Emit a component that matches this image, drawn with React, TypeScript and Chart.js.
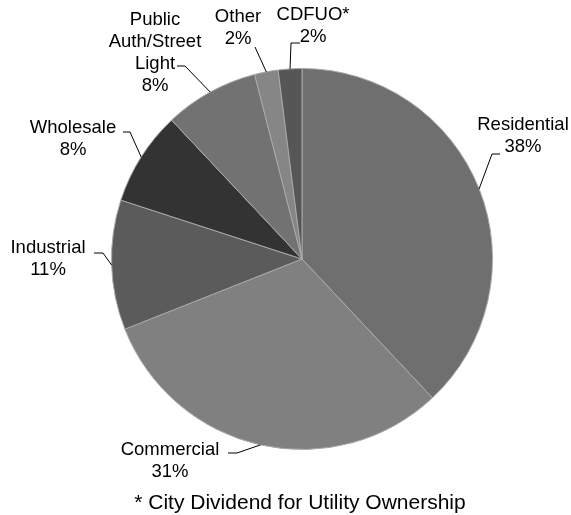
import React, { useEffect, useRef } from "react";
import { Chart, registerables } from "chart.js";

Chart.register(...registerables);

// ---- data ----
const categories = [
  "Residential",
  "Commercial",
  "Industrial",
  "Wholesale",
  "Public Auth/Street Light",
  "Other",
  "CDFUO*",
];
const shares = [38, 31, 11, 8, 8, 2, 2];
const sliceColors = ["#6f6f6f", "#808080", "#5b5b5b", "#333333", "#727272", "#868686", "#565656"];
const labelNameLines = [
  ["Residential"],
  ["Commercial"],
  ["Industrial"],
  ["Wholesale"],
  ["Public", "Auth/Street", "Light"],
  ["Other"],
  ["CDFUO*"],
];
const footnote = "* City Dividend for Utility Ownership";

// ---- label layout (text centre of first line, leader elbow, leader tail) ----
const labelLayout = [
  { tx: 523, ty: 125, ex: 492, ey: 154, hx: 500, hy: 154 },
  { tx: 170, ty: 450, ex: 237, ey: 453, hx: 228, hy: 453 },
  { tx: 48, ty: 248, ex: 103, ey: 253, hx: 94, hy: 253 },
  { tx: 73, ty: 128, ex: 130, ey: 132, hx: 123, hy: 132 },
  { tx: 155, ty: 20, ex: 185, ey: 66, hx: 177, hy: 66 },
  { tx: 238, ty: 17, ex: 255, ey: 47, hx: 255, hy: 47 },
  { tx: 313, ty: 15, ex: 291, ey: 43, hx: 300, hy: 43 },
];

const FONT = '"Liberation Sans", Arial, sans-serif';
const LABEL_SIZE = 18.5;
const LINE_H = 22;

const labelPlugin = {
  id: "pieLabels",
  afterDraw(chart: any) {
    const ctx = chart.ctx as CanvasRenderingContext2D;
    const meta = chart.getDatasetMeta(0);
    const values = chart.data.datasets[0].data as number[];
    const total = values.reduce((a, b) => a + b, 0);
    ctx.save();
    meta.data.forEach((arc: any, i: number) => {
      const { x, y, startAngle, endAngle, outerRadius } = arc.getProps(
        ["x", "y", "startAngle", "endAngle", "outerRadius"],
        true
      );
      const mid = (startAngle + endAngle) / 2;
      const px = x + Math.cos(mid) * outerRadius;
      const py = y + Math.sin(mid) * outerRadius;
      const L = labelLayout[i];
      ctx.strokeStyle = "#000";
      ctx.lineWidth = 1;
      ctx.beginPath();
      ctx.moveTo(px, py);
      ctx.lineTo(L.ex, L.ey);
      ctx.lineTo(L.hx, L.hy);
      ctx.stroke();

      const lines = [...labelNameLines[i], `${Math.round((values[i] / total) * 100)}%`];
      ctx.fillStyle = "#000";
      ctx.font = `${LABEL_SIZE}px ${FONT}`;
      ctx.textAlign = "center";
      ctx.textBaseline = "middle";
      lines.forEach((t, k) => ctx.fillText(t, L.tx, L.ty + k * LINE_H));
    });
    ctx.font = `21px ${FONT}`;
    ctx.fillStyle = "#000";
    ctx.textAlign = "center";
    ctx.textBaseline = "middle";
    ctx.fillText(footnote, 300, 503);
    ctx.restore();
  },
};

export default function App() {
  const ref = useRef<HTMLCanvasElement | null>(null);
  useEffect(() => {
    if (!ref.current) return;
    const chart = new Chart(ref.current, {
      type: "pie",
      data: {
        labels: categories,
        datasets: [
          {
            data: shares,
            backgroundColor: sliceColors,
            borderColor: "#a8a8a8",
            borderWidth: 1,
          },
        ],
      },
      options: {
        responsive: false,
        animation: false,
        layout: { padding: { left: 111, right: 78, top: 68, bottom: 65 } },
        plugins: {
          legend: { display: false },
          tooltip: { enabled: false },
        },
      },
      plugins: [labelPlugin],
    });
    return () => chart.destroy();
  }, []);
  return (
    <div style={{ position: "fixed", left: 0, top: 0, width: 571, height: 515, background: "#fff" }}>
      <canvas ref={ref} width={571} height={515} style={{ display: "block" }} />
    </div>
  );
}
